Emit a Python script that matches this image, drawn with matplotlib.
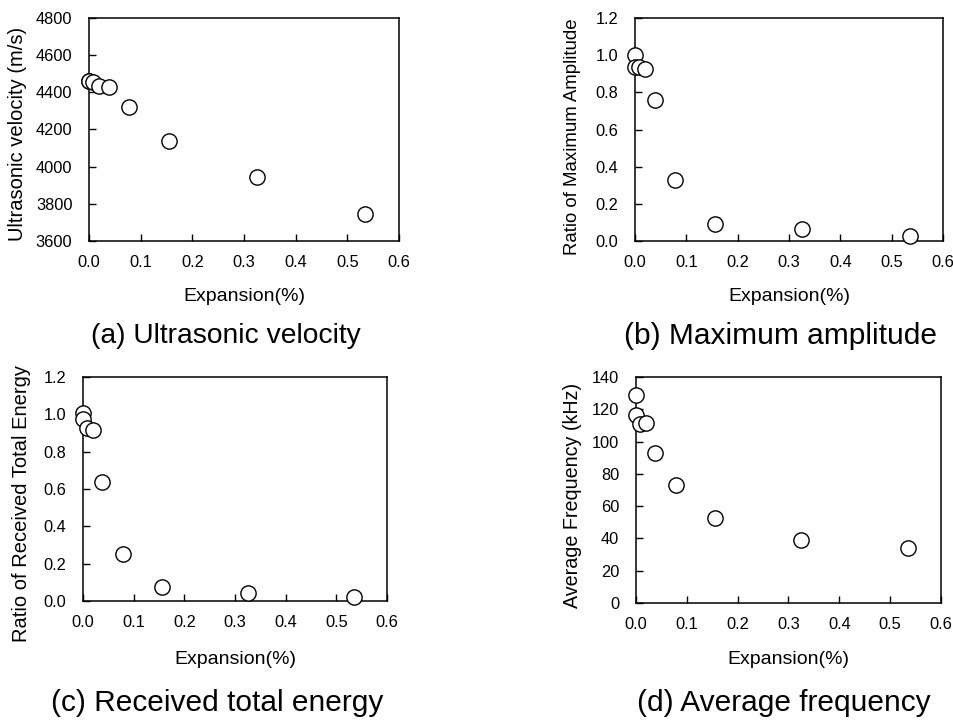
import matplotlib
matplotlib.use("Agg")
import matplotlib.pyplot as plt

plt.rcParams['font.family'] = ['Liberation Sans', 'DejaVu Sans']

W, H = 954, 722

expansion = [0.0, 0.0, 0.008, 0.02, 0.038, 0.078, 0.155, 0.325, 0.535]
velocity = [4460, 4459, 4458, 4434, 4428, 4320, 4139, 3943, 3747]
amplitude = [1.003, 0.937, 0.937, 0.928, 0.757, 0.329, 0.093, 0.063, 0.025]
energy = [1.006, 0.974, 0.929, 0.915, 0.636, 0.251, 0.077, 0.041, 0.020]
frequency = [129.0, 116.6, 110.8, 111.4, 92.9, 72.8, 52.9, 39.2, 34.2]

x_ticks = [0.0, 0.1, 0.2, 0.3, 0.4, 0.5, 0.6]
x_label = "Expansion(%)"

panels = [
    dict(y=velocity, ylabel="Ultrasonic velocity (m/s)", ylim=(3600, 4800),
         yticks=[3600, 3800, 4000, 4200, 4400, 4600, 4800], fmt="{:.0f}",
         caption="(a) Ultrasonic velocity", box=(89, 399, 18, 241),
         ylx=18, yly=134, ylfs=14.5, capx=226, capy=336, capfs=20.3,
         xlx=244, xly=296),
    dict(y=amplitude, ylabel="Ratio of Maximum Amplitude", ylim=(0, 1.2),
         yticks=[0.0, 0.2, 0.4, 0.6, 0.8, 1.0, 1.2], fmt="{:.1f}",
         caption="(b) Maximum amplitude", box=(635, 943, 18, 241),
         ylx=573, yly=137, ylfs=13.4, capx=780, capy=336, capfs=21.5,
         xlx=789, xly=296),
    dict(y=energy, ylabel="Ratio of Received Total Energy", ylim=(0, 1.2),
         yticks=[0.0, 0.2, 0.4, 0.6, 0.8, 1.0, 1.2], fmt="{:.1f}",
         caption="(c) Received total energy", box=(83, 387, 377, 601),
         ylx=22, yly=504, ylfs=14.5, capx=217, capy=703, capfs=21.5,
         xlx=235, xly=660),
    dict(y=frequency, ylabel="Average Frequency (kHz)", ylim=(0, 140),
         yticks=[0, 20, 40, 60, 80, 100, 120, 140], fmt="{:.0f}",
         caption="(d) Average frequency", box=(636, 941, 377, 603),
         ylx=573, yly=495, ylfs=14.2, capx=784, capy=703, capfs=21.5,
         xlx=788, xly=660),
]

fig = plt.figure(figsize=(W / 100, H / 100), dpi=100)

for p in panels:
    l, r, t, b = p["box"]
    ax = fig.add_axes([l / W, 1 - b / H, (r - l) / W, (b - t) / H])
    ax.plot(expansion, p["y"], linestyle="none", marker="o", markersize=11,
            markerfacecolor="white", markeredgecolor="black",
            markeredgewidth=1.0, clip_on=False, zorder=5)
    ax.set_xlim(0, 0.6)
    ax.set_ylim(*p["ylim"])
    ax.set_xticks(x_ticks)
    ax.set_xticklabels([f"{v:.1f}" for v in x_ticks])
    ax.set_yticks(p["yticks"])
    ax.set_yticklabels([p["fmt"].format(v) for v in p["yticks"]])
    ax.tick_params(direction="in", length=5, width=1, labelsize=11.8,
                   colors="black")
    ax.tick_params(axis="x", pad=10)
    ax.tick_params(axis="y", pad=12)
    for s in ax.spines.values():
        s.set_linewidth(1.1)
    fig.text(p["ylx"] / W, 1 - p["yly"] / H, p["ylabel"], rotation=90,
             ha="center", va="center", fontsize=p["ylfs"])
    fig.text(p["xlx"] / W, 1 - p["xly"] / H, x_label, ha="center",
             va="center", fontsize=14)
    fig.text(p["capx"] / W, 1 - p["capy"] / H, p["caption"], ha="center",
             va="center", fontsize=p["capfs"])

fig.savefig("out.png", dpi=100, facecolor="white")
